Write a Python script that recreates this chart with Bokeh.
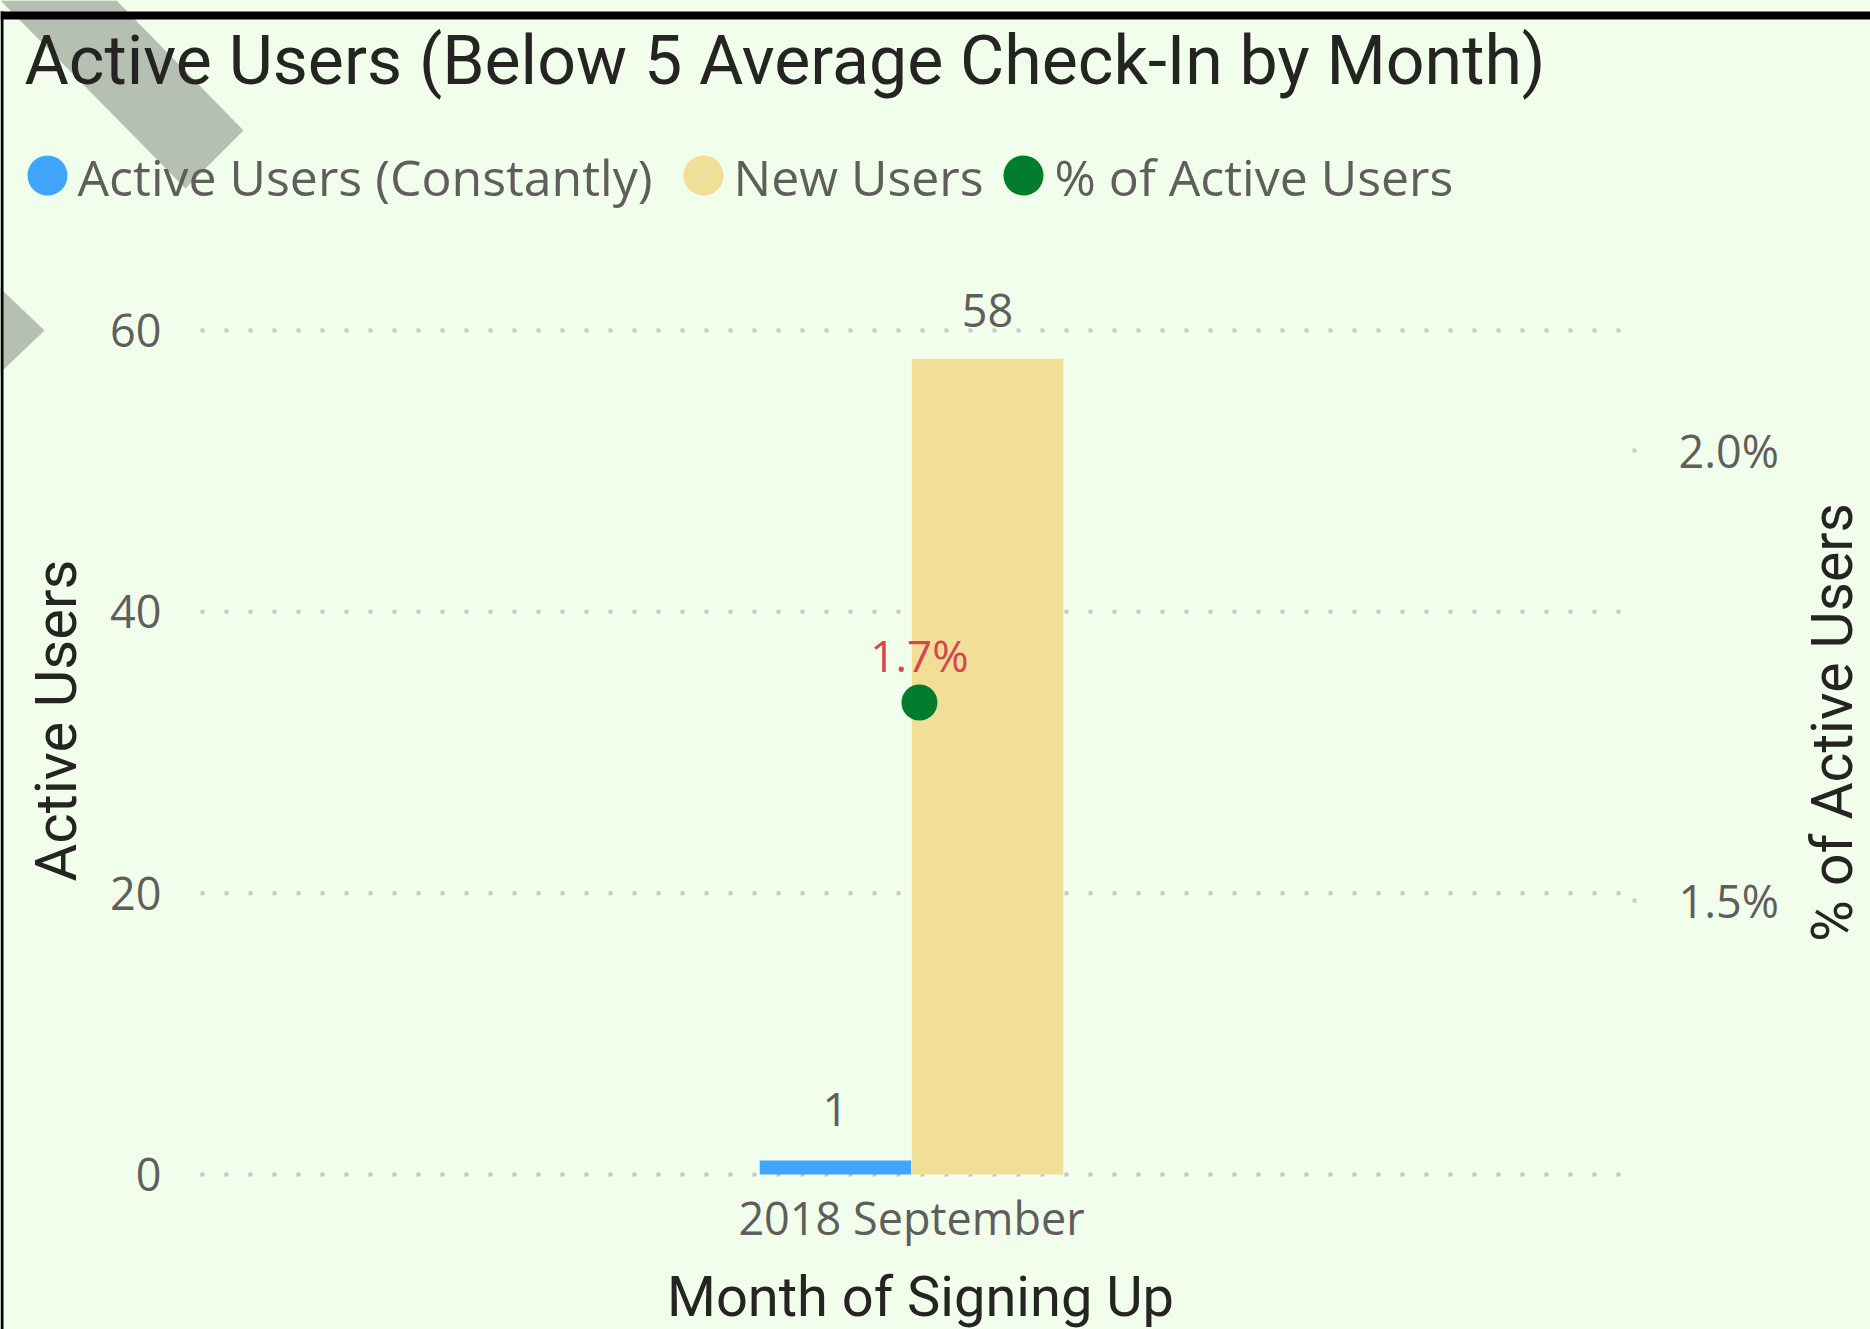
from math import pi
from bokeh.plotting import figure
from bokeh.models import (Range1d, LinearAxis, FixedTicker, NumeralTickFormatter,
                          ColumnDataSource, LabelSet)
from bokeh.core.properties import value
from bokeh.embed import file_html
from bokeh.resources import INLINE

# ---------------- data ----------------
months = ["2018 September"]
active_users = [1]
new_users = [58]
pct_active = [0.0172]
pct_labels = ["1.7%"]
series_names = ["Active Users (Constantly)", "New Users", "% of Active Users"]
series_colors = ["#41A4FF", "#F1DF97", "#007D2C"]
left_ticks = [0, 20, 40, 60]
right_ticks = [0.015, 0.020]
title_text = "Active Users (Below 5 Average Check-In by Month)"
x_title = "Month of Signing Up"
y_title = "Active Users"
y2_title = "% of Active Users"

# ---------------- style / layout ----------------
BG = "#F1FEEB"
GREY_TXT = "#605E5C"
DARK_TXT = "#252423"
GRID = "#C8C8C8"
DECO = "#B5C0B3"
W, H = 1870, 1329
FL, FR, FB = 200, 1622, 1174          # plot-area edges in canvas pixels
PX_PER_CAT = FR - FL                  # one category spans the plot width
PX_PER_USER = 844 / 60                # 60 users = 844 px
PCT_REF_Y, PX_PER_PCT = 900, 90000    # 1.5 % sits at y=900, 1 % = 900 px
BAR_W = 0.1065
OFF = 0.0535
DOT_OFF = 0.0056

x_rng = Range1d(-FL / PX_PER_CAT, (W - FL) / PX_PER_CAT)
y_rng = Range1d(-(H - FB) / PX_PER_USER, FB / PX_PER_USER)
pct_rng = Range1d(0.015 - (H - PCT_REF_Y) / PX_PER_PCT, 0.015 + PCT_REF_Y / PX_PER_PCT)

centers = [i + 0.5 for i in range(len(months))]
src = ColumnDataSource(dict(
    xa=[c - OFF for c in centers],
    xn=[c + OFF for c in centers],
    xp=[c + DOT_OFF for c in centers],
    active=active_users, new=new_users, pct=pct_active, pct_lbl=pct_labels,
    active_lbl=[str(v) for v in active_users],
    new_lbl=[str(v) for v in new_users]))

p = figure(x_range=x_rng, y_range=y_rng, width=W, height=H,
           x_axis_location=None, y_axis_location=None, min_border=0,
           output_backend="svg", toolbar_location=None)
p.background_fill_color = BG
p.border_fill_color = BG
p.outline_line_color = None
p.grid.visible = False

p.extra_y_ranges = {"pct": pct_rng, "py": Range1d(H, 0)}
p.extra_x_ranges = {"px": Range1d(0, W)}

# ---------------- decorations (canvas-pixel coordinates) ----------------
p.patch(x=[0, 116, 243, 185], y=[0, 0, 130, 188], x_range_name="px", y_range_name="py",
        fill_color=DECO, line_color=None)
p.patch(x=[0, 44, 0], y=[288, 330, 372], x_range_name="px", y_range_name="py",
        fill_color=DECO, line_color=None)
p.quad(left=[0, 0], right=[W, 3], top=[11, 11], bottom=[19, H],
       x_range_name="px", y_range_name="py", fill_color="#000000", line_color=None)

# ---------------- axes ----------------
def style_axis(ax):
    ax.axis_line_color = None
    ax.minor_tick_line_color = None
    ax.major_label_text_font = "Open Sans"
    ax.major_label_text_font_size = "45px"
    ax.major_label_text_color = GREY_TXT

ly = LinearAxis(fixed_location=0, ticker=FixedTicker(ticks=left_ticks))
style_axis(ly)
ly.major_tick_line_color = None
ly.major_tick_out = 0
ly.major_tick_in = 0
ly.major_label_standoff = 39
p.add_layout(ly, "left")

bx = LinearAxis(fixed_location=0, ticker=FixedTicker(ticks=centers),
                major_label_overrides={c: m for c, m in zip(centers, months)})
style_axis(bx)
bx.major_tick_line_color = None
bx.major_tick_out = 0
bx.major_tick_in = 0
bx.major_label_standoff = 12
p.add_layout(bx, "below")

ry = LinearAxis(y_range_name="pct", fixed_location=1, ticker=FixedTicker(ticks=right_ticks),
                formatter=NumeralTickFormatter(format="0.0%"))
style_axis(ry)
ry.major_tick_line_color = GRID
ry.major_tick_line_width = 4
ry.major_tick_in = -10
ry.major_tick_out = 14
ry.major_label_standoff = 42
p.add_layout(ry, "right")

# dotted gridlines across the category span
p.segment(x0=[0] * len(left_ticks), x1=[len(months)] * len(left_ticks),
          y0=left_ticks, y1=left_ticks, line_color=GRID, line_width=4,
          line_dash="4 20", line_cap="butt")

# ---------------- data marks ----------------
p.vbar(x="xa", top="active", width=BAR_W, source=src,
       fill_color=series_colors[0], line_color=None)
p.vbar(x="xn", top="new", width=BAR_W, source=src,
       fill_color=series_colors[1], line_color=None)
p.scatter(x="xp", y="pct", y_range_name="pct", source=src, size=36,
          fill_color=series_colors[2], line_color=None)

lbl_font = value("Open Sans")
p.add_layout(LabelSet(x="xa", y="active", text="active_lbl",
                      source=src, y_offset=34, text_align="center", text_baseline="alphabetic",
                      text_font=lbl_font, text_font_size=value("45px"), text_color=GREY_TXT))
p.add_layout(LabelSet(x="xn", y="new", text="new_lbl",
                      source=src, y_offset=32, text_align="center", text_baseline="alphabetic",
                      text_font=lbl_font, text_font_size=value("45px"), text_color=GREY_TXT))
p.add_layout(LabelSet(x="xp", y="pct", text="pct_lbl",
                      y_range_name="pct", source=src, y_offset=31, text_align="center",
                      text_baseline="alphabetic", text_font=lbl_font,
                      text_font_size=value("44px"), text_color="#D64550"))

# ---------------- titles and legend (canvas-pixel coordinates) ----------------
def page_text(x, y, text, font, size, color, align="left", angle=0.0):
    s = ColumnDataSource(dict(x=[x], y=[y], t=[text]))
    p.add_layout(LabelSet(x="x", y="y", text="t", source=s,
                          x_range_name="px", y_range_name="py",
                          text_font=value(font), text_font_size=value(size),
                          text_color=color, text_align=align,
                          text_baseline="alphabetic", angle=angle))

page_text(24, 83, title_text, "Roboto", "68px", DARK_TXT)
p.scatter(x=[47, 703, 1023], y=[175, 175, 175], x_range_name="px", y_range_name="py",
          size=40, fill_color=series_colors, line_color=None)
for tx, name in zip([77, 733, 1054], series_names):
    page_text(tx, 195, name, "Open Sans", "50px", GREY_TXT)
page_text(75, 720, y_title, "Roboto", "58px", DARK_TXT, align="center", angle=pi / 2)
page_text(1851, 722, y2_title, "Roboto", "57px", DARK_TXT, align="center", angle=pi / 2)
page_text(920, 1315, x_title, "Roboto", "56px", DARK_TXT, align="center")

html = file_html(p, INLINE)
css = "<style>html,body{background:%s;}</style>" % BG
html = html.replace("</head>", css + "</head>", 1)
open("out.html", "w").write(html)
